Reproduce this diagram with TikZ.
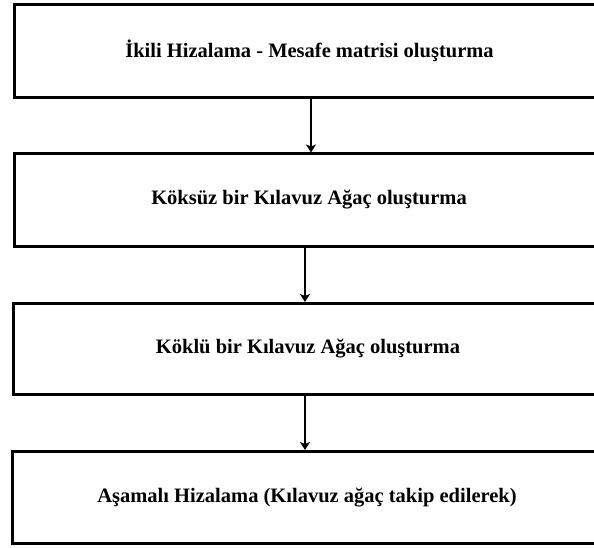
\documentclass[tikz,border=0pt]{standalone}
\usepackage{fontspec}
\setmainfont{Liberation Serif}
\usetikzlibrary{arrows.meta}
\tikzset{
  stepbox/.style={draw=black, line width=3pt, rectangle, minimum width=590pt, inner sep=0pt,
    font=\bfseries\fontsize{20.5}{24}\selectfont, text=black},
  flowarrow/.style={line width=2.2pt, -{Stealth[length=8pt,width=10pt,inset=2pt]}}
}
\begin{document}
\begin{tikzpicture}[x=1pt,y=-1pt]
\useasboundingbox (0,0) rectangle (594,548);
\clip (0,0) rectangle (594,548);
\node[stepbox, minimum height=93pt] (b1) at (309.5,51) {İkili Hizalama - Mesafe matrisi oluşturma};
\node[stepbox, minimum height=92pt] (b2) at (309,200) {Köksüz bir Kılavuz Ağaç oluşturma};
\node[stepbox, minimum height=91pt] (b3) at (308,349) {Köklü bir Kılavuz Ağaç oluşturma};
\node[stepbox, minimum height=92pt] (b4) at (307,497.5) {Aşamalı Hizalama (Kılavuz ağaç takip edilerek)};
\coordinate (x1) at (311,0);
\coordinate (x2) at (305,0);
\draw[flowarrow] (b1.south -| x1) -- (b2.north -| x1);
\draw[flowarrow] (b2.south -| x2) -- (b3.north -| x2);
\draw[flowarrow] (b3.south -| x2) -- (b4.north -| x2);
\end{tikzpicture}
\end{document}
